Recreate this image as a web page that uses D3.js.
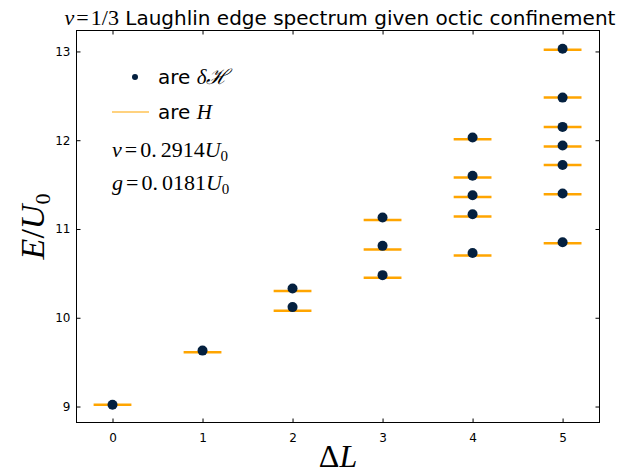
<!DOCTYPE html>
<html><head><meta charset="utf-8">
<script src="https://cdn.jsdelivr.net/npm/d3@7"></script>
<style>body{margin:0;background:#fff;} svg{display:block;}</style>
</head><body>
<svg id="c" width="639" height="474"></svg>
<script>
// Data: ΔL per level, δℋ dot energies, H line energies
const deltaL = [0, 1, 2, 2, 3, 3, 3, 4, 4, 4, 4, 4, 5, 5, 5, 5, 5, 5, 5];
const dotE   = [9.02, 9.63, 10.33, 10.12, 11.13, 10.81, 10.48, 12.03, 11.60, 11.38, 11.165, 10.73, 13.03, 12.48, 12.15, 11.94, 11.72, 11.40, 10.85];
const lineE  = [9.02, 9.61, 10.30, 10.08, 11.10, 10.77, 10.45, 12.01, 11.58, 11.36, 11.14, 10.70, 13.02, 12.48, 12.15, 11.93, 11.72, 11.39, 10.84];
const xTicks = [0, 1, 2, 3, 4, 5];
const yTicks = [9, 10, 11, 12, 13];

const svg = d3.select("#c");
const L = 76.5, R = 599.5, T = 30.5, B = 422.5;
const x = d3.scaleLinear().domain([-0.4, 5.41]).range([L, R]);
const y = d3.scaleLinear().domain([8.82, 13.236]).range([B, T]);

const navy = "#04203f", orange = "#ffa500";
const halfW = 0.21;

// lines (H)
svg.append("g").selectAll("line").data(lineE).join("line")
  .attr("x1", (d,i) => x(deltaL[i] - halfW)).attr("x2", (d,i) => x(deltaL[i] + halfW))
  .attr("y1", d => y(d)).attr("y2", d => y(d))
  .attr("stroke", orange).attr("stroke-width", 2.5);
// dots (δℋ)
svg.append("g").selectAll("circle").data(dotE).join("circle")
  .attr("cx", (d,i) => x(deltaL[i])).attr("cy", d => y(d)).attr("r", 5)
  .attr("fill", navy);

// axes
const tickFont = "DejaVu Sans";
const gx = svg.append("g").attr("transform", `translate(0,${B})`)
  .call(d3.axisBottom(x).tickValues(xTicks).tickFormat(d3.format("d")).tickSizeInner(-4).tickSizeOuter(0).tickPadding(11));
const gxt = svg.append("g").attr("transform", `translate(0,${T})`)
  .call(d3.axisTop(x).tickValues(xTicks).tickFormat("").tickSizeInner(-4).tickSizeOuter(0));
const gy = svg.append("g").attr("transform", `translate(${L},0)`)
  .call(d3.axisLeft(y).tickValues(yTicks).tickFormat(d3.format("d")).tickSizeInner(-4).tickSizeOuter(0).tickPadding(6));
const gyr = svg.append("g").attr("transform", `translate(${R},0)`)
  .call(d3.axisRight(y).tickValues(yTicks).tickFormat("").tickSizeInner(-4).tickSizeOuter(0));
[gx, gxt, gy, gyr].forEach(g => {
  g.select(".domain").remove();
  g.selectAll("line").attr("stroke", "#000").attr("stroke-width", 1);
  g.selectAll("text").attr("font-family", tickFont).attr("font-size", 12).attr("fill", "#000");
});
svg.append("rect").attr("x", L).attr("y", T).attr("width", R - L).attr("height", B - T)
  .attr("fill", "none").attr("stroke", "#000").attr("stroke-width", 1);

// title
const serif = "'Liberation Serif', 'DejaVu Serif', serif";
const title = svg.append("text").attr("x", (L + R) / 2 + 2).attr("y", 25)
  .attr("text-anchor", "middle").attr("font-family", "DejaVu Sans").attr("font-size", 20);
title.append("tspan").attr("font-family", serif).attr("font-style", "italic").attr("font-size", 22).text("ν");
title.append("tspan").attr("font-family", serif).attr("font-size", 22).attr("dx", 2).text("=");
title.append("tspan").attr("font-family", serif).attr("font-size", 22).attr("dx", 2).text("1/3");
title.append("tspan").text(" Laughlin edge spectrum given octic confinement");

// x label
const xl = svg.append("text").attr("x", (L + R) / 2).attr("y", 467).attr("text-anchor", "middle")
  .attr("font-family", serif).attr("font-size", 32);
xl.append("tspan").text("Δ");
xl.append("tspan").attr("font-style", "italic").text("L");

// y label
const yl = svg.append("text").attr("transform", `translate(44,${(T + B) / 2}) rotate(-90)`)
  .attr("text-anchor", "middle").attr("font-family", serif).attr("font-size", 34);
yl.append("tspan").attr("font-style", "italic").text("E");
yl.append("tspan").text("/");
yl.append("tspan").attr("font-style", "italic").text("U");
yl.append("tspan").attr("font-size", 22).attr("dy", 6).text("0");

// legend
svg.append("circle").attr("cx", 135).attr("cy", 77).attr("r", 3).attr("fill", navy);
const t1 = svg.append("text").attr("x", 158).attr("y", 84).attr("font-family", "DejaVu Sans").attr("font-size", 20);
t1.append("tspan").text("are ");
t1.append("tspan").attr("font-family", serif).attr("font-style", "italic").attr("font-size", 21).text("δℋ");
svg.append("line").attr("x1", 112).attr("x2", 149).attr("y1", 112).attr("y2", 112)
  .attr("stroke", orange).attr("stroke-width", 1.2);
const t2 = svg.append("text").attr("x", 158).attr("y", 119).attr("font-family", "DejaVu Sans").attr("font-size", 20);
t2.append("tspan").text("are ");
t2.append("tspan").attr("font-family", serif).attr("font-style", "italic").attr("font-size", 21).text("H");

// parameter annotations
function param(sym, val, yy) {
  const t = svg.append("text").attr("x", 112).attr("y", yy).attr("font-family", serif).attr("font-size", 22);
  t.append("tspan").attr("font-style", "italic").text(sym);
  t.append("tspan").attr("dx", 3).text("=");
  t.append("tspan").attr("dx", 3).text("0.");
  t.append("tspan").attr("dx", 4).text(val);
  t.append("tspan").attr("font-style", "italic").text("U");
  t.append("tspan").attr("font-size", 15).attr("dy", 4).text("0");
}
param("v", "2914", 157);
param("g", "0181", 190);
</script>
</body></html>
